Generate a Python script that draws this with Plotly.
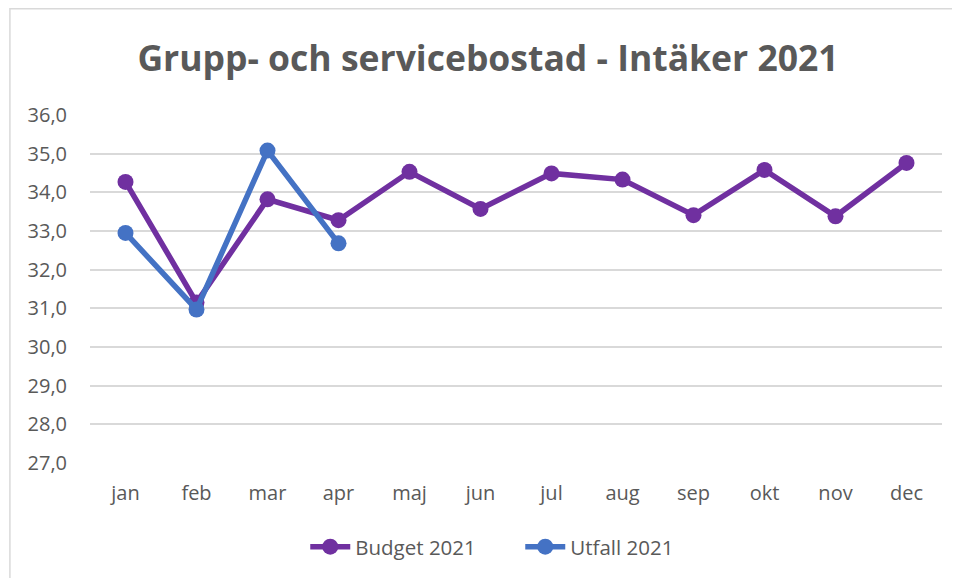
import plotly.graph_objects as go

# månader och värden (mnkr)
months = ['jan', 'feb', 'mar', 'apr', 'maj', 'jun', 'jul', 'aug', 'sep', 'okt', 'nov', 'dec']
budget_2021 = [34.27, 31.15, 33.82, 33.28, 34.53, 33.57, 34.49, 34.33, 33.41, 34.58, 33.38, 34.76]
utfall_months = ['jan', 'feb', 'mar', 'apr']
utfall_2021 = [32.95, 30.97, 35.08, 32.68]

FONT = 'Open Sans, sans-serif'
GREY = '#595959'

fig = go.Figure()

fig.add_trace(go.Scatter(
    x=months, y=budget_2021, name='Budget 2021',
    mode='lines+markers',
    line=dict(color='#7030a0', width=5.5),
    marker=dict(color='#7030a0', size=16),
))
fig.add_trace(go.Scatter(
    x=utfall_months, y=utfall_2021, name='Utfall 2021',
    mode='lines+markers',
    line=dict(color='#4472c4', width=5.5),
    marker=dict(color='#4472c4', size=16),
))

# the page body adds an 8px offset, so margins are trimmed by 8
fig.update_layout(
    width=960, height=578,
    margin=dict(l=82, r=26, t=107, b=123),
    paper_bgcolor='white', plot_bgcolor='white',
    separators=',.',
    font=dict(family=FONT, color=GREY, size=20),
    title=dict(
        text='<b>Grupp- och servicebostad - Intäker 2021</b>',
        x=0.5, xanchor='center', y=0.913, yanchor='middle',
        font=dict(size=35.5, color=GREY, family=FONT),
    ),
    legend=dict(
        orientation='h', x=0.505, xanchor='center', y=-0.241, yanchor='middle',
        font=dict(size=20.5, color=GREY), itemwidth=40,
        entrywidth=160, entrywidthmode='pixels',
    ),
    shapes=[dict(
        type='rect', xref='paper', yref='paper',
        x0=-0.094, x1=1.2, y0=-0.6, y1=1.305,
        line=dict(color='#d9d9d9', width=1.5), layer='below',
    )],
)

fig.update_xaxes(
    type='category', range=[-0.5, 11.5],
    showgrid=False, showline=False, zeroline=False,
    ticks='outside', ticklen=12, tickcolor='rgba(0,0,0,0)',
    tickfont=dict(size=20, color=GREY),
)
fig.update_yaxes(
    range=[27, 36], dtick=1, tickformat='.1f',
    showgrid=True, gridcolor='#d9d9d9', gridwidth=1.5, zeroline=False,
    ticks='outside', ticklen=18, tickcolor='rgba(0,0,0,0)',
    tickfont=dict(size=20, color=GREY),
)

fig.write_html('out.html')
